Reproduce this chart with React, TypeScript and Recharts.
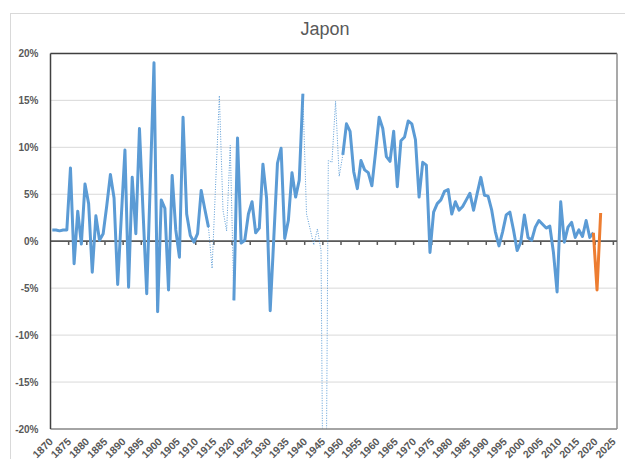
import React from 'react';
import { LineChart, Line, XAxis, YAxis, CartesianGrid, ReferenceLine } from 'recharts';

// Category range (years on the x axis)
const FIRST_YEAR = 1870;
const LAST_YEAR = 2025;

// Solid blue series, 1870-1913
const growth1870 = [
  1.2, 1.2, 1.1, 1.2, 1.2, 7.8, -2.4, 3.2, -0.3, 6.1,
  4.0, -3.3, 2.7, 0.1, 0.8, 3.8, 7.1, 4.6, -4.6, 2.6,
  9.7, -4.9, 6.8, 0.8, 12.0, 3.0, -5.6, 6.5, 19.0, -7.5,
  4.4, 3.5, -5.2, 7.0, 1.2, -1.7, 13.2, 2.9, 0.6, -0.1,
  0.8, 5.4, 3.4, 1.5,
];
// Dotted blue series, 1913-1920
const growth1913 = [1.5, -2.9, 6.3, 15.5, 3.3, 1.1, 10.2, -6.3];
// Solid blue series, 1920-1939
const growth1920 = [
  -6.3, 11.0, -0.2, 0.1, 2.9, 4.2, 0.9, 1.4, 8.2, 4.6,
  -7.4, 0.4, 8.3, 9.9, 0.3, 2.2, 7.3, 4.7, 6.5, 15.7,
];
// Dotted blue series, 1939-1950
const growth1939 = [15.7, 2.9, 1.3, -0.4, 1.3, -1.0, -52, 8.6, 8.4, 14.9, 6.9, 9.2];
// Solid blue series, 1950-2019
const growth1950 = [
  9.2, 12.5, 11.7, 7.4, 5.6, 8.6, 7.6, 7.3, 5.9, 9.4,
  13.2, 12.0, 9.0, 8.5, 11.7, 5.8, 10.7, 11.1, 12.8, 12.5,
  10.8, 4.7, 8.4, 8.1, -1.2, 3.1, 4.0, 4.4, 5.3, 5.5,
  2.9, 4.2, 3.3, 3.7, 4.4, 5.1, 3.3, 5.1, 6.8, 4.9,
  4.8, 3.3, 1.0, -0.5, 1.0, 2.8, 3.1, 1.2, -1.0, -0.1,
  2.8, 0.4, 0.1, 1.5, 2.2, 1.8, 1.4, 1.6, -1.2, -5.4,
  4.2, -0.1, 1.5, 2.0, 0.4, 1.2, 0.5, 2.2, 0.4, 0.9,
];
// Orange forecast series, 2019-2021
const forecast2019 = [0.9, -5.2, 3.0];

const yTicks = [-20, -15, -10, -5, 0, 5, 10, 15, 20];
const xTicks = [
  1870, 1875, 1880, 1885, 1890, 1895, 1900, 1905, 1910, 1915, 1920,
  1925, 1930, 1935, 1940, 1945, 1950, 1955, 1960, 1965, 1970, 1975,
  1980, 1985, 1990, 1995, 2000, 2005, 2010, 2015, 2020, 2025,
];
// Tick marks on the zero line sit between categories
const zeroTickMarks = [
  1874.5, 1879.5, 1884.5, 1889.5, 1894.5, 1899.5, 1904.5, 1909.5, 1914.5, 1919.5,
  1924.5, 1929.5, 1934.5, 1939.5, 1944.5, 1949.5, 1954.5, 1959.5, 1964.5, 1969.5,
  1974.5, 1979.5, 1984.5, 1989.5, 1994.5, 1999.5, 2004.5, 2009.5, 2014.5, 2019.5, 2024.5,
];

type Row = { year: number; main?: number | null; war?: number | null; fc?: number | null };

const rows: Row[] = [];
for (let yr = FIRST_YEAR; yr <= LAST_YEAR; yr++) rows.push({ year: yr, main: null, war: null, fc: null });
function put(key: 'main' | 'war' | 'fc', start: number, arr: number[]) {
  arr.forEach((v, i) => {
    (rows[start - FIRST_YEAR + i] as any)[key] = v;
  });
}
put('main', 1870, growth1870);
put('war', 1913, growth1913);
put('main', 1920, growth1920);
put('war', 1939, growth1939);
put('main', 1950, growth1950);
put('fc', 2019, forecast2019);

const FONT = '"Liberation Sans", Arial, sans-serif';
const LABEL = '#595959';

const XTick = (props: any) => {
  const { x, y, payload } = props;
  const ax = x - 1.5;
  const ay = y + 2.5;
  return (
    <text
      x={ax}
      y={ay}
      transform={`rotate(-45, ${ax}, ${ay})`}
      textAnchor="end"
      dominantBaseline="central"
      fill={LABEL}
      fontSize={10.5}
      fontWeight="bold"
      fontFamily={FONT}
    >
      {payload.value}
    </text>
  );
};

export default function App() {
  return (
    <div style={{ position: 'absolute', left: 0, top: 0, width: 625, height: 459, overflow: 'hidden', background: '#fff' }}>
      <div
        style={{
          position: 'absolute', left: 10, top: 13, width: 700, height: 600,
          border: '1px solid #d9d9d9', boxSizing: 'border-box',
        }}
      />
      <div
        style={{
          position: 'absolute', left: 0, top: 19, width: 650, textAlign: 'center',
          fontFamily: FONT, fontSize: 18, lineHeight: '20px', color: LABEL,
        }}
      >
        Japon
      </div>
      <div style={{ position: 'absolute', left: 0, top: 0 }}>
        <LineChart width={625} height={459} data={rows} margin={{ top: 53.4, right: 8, bottom: 0, left: 0 }}>
          <CartesianGrid vertical={false} stroke="#d9d9d9" strokeWidth={1} />
          <XAxis
            type="number"
            dataKey="year"
            domain={[1869.5, 2025.5]}
            ticks={xTicks}
            interval={0}
            height={30}
            tickLine={false}
            axisLine={{ stroke: '#8c8c8c', strokeWidth: 1.5 }}
            tick={<XTick />}
            allowDataOverflow
          />
          <YAxis
            type="number"
            domain={[-20, 20]}
            ticks={yTicks}
            interval={0}
            width={50.5}
            tickLine={false}
            tickMargin={6}
            axisLine={{ stroke: '#404040', strokeWidth: 1.5 }}
            tick={{ fill: LABEL, fontSize: 10, fontWeight: 'bold', fontFamily: FONT }}
            tickFormatter={(v: number) => `${v}%`}
            allowDataOverflow
          />
          <ReferenceLine y={20} stroke="#404040" strokeWidth={1.5} />
          <ReferenceLine x={2025.5} stroke="#8c8c8c" strokeWidth={1.5} />
          <ReferenceLine y={0} stroke="#595959" strokeWidth={1.75} />
          {zeroTickMarks.map((t) => (
            <ReferenceLine
              key={t}
              segment={[{ x: t, y: 0 }, { x: t, y: -0.4 }]}
              stroke="#595959"
              strokeWidth={1.5}
            />
          ))}
          <Line
            type="linear"
            dataKey="war"
            stroke="#5b9bd5"
            strokeWidth={1}
            strokeDasharray="1 1.5"
            dot={false}
            activeDot={false}
            isAnimationActive={false}
          />
          <Line
            type="linear"
            dataKey="main"
            stroke="#5b9bd5"
            strokeWidth={3}
            strokeLinejoin="round"
            dot={false}
            activeDot={false}
            isAnimationActive={false}
          />
          <Line
            type="linear"
            dataKey="fc"
            stroke="#ed7d31"
            strokeWidth={3}
            strokeLinejoin="round"
            dot={false}
            activeDot={false}
            isAnimationActive={false}
          />
        </LineChart>
      </div>
    </div>
  );
}
